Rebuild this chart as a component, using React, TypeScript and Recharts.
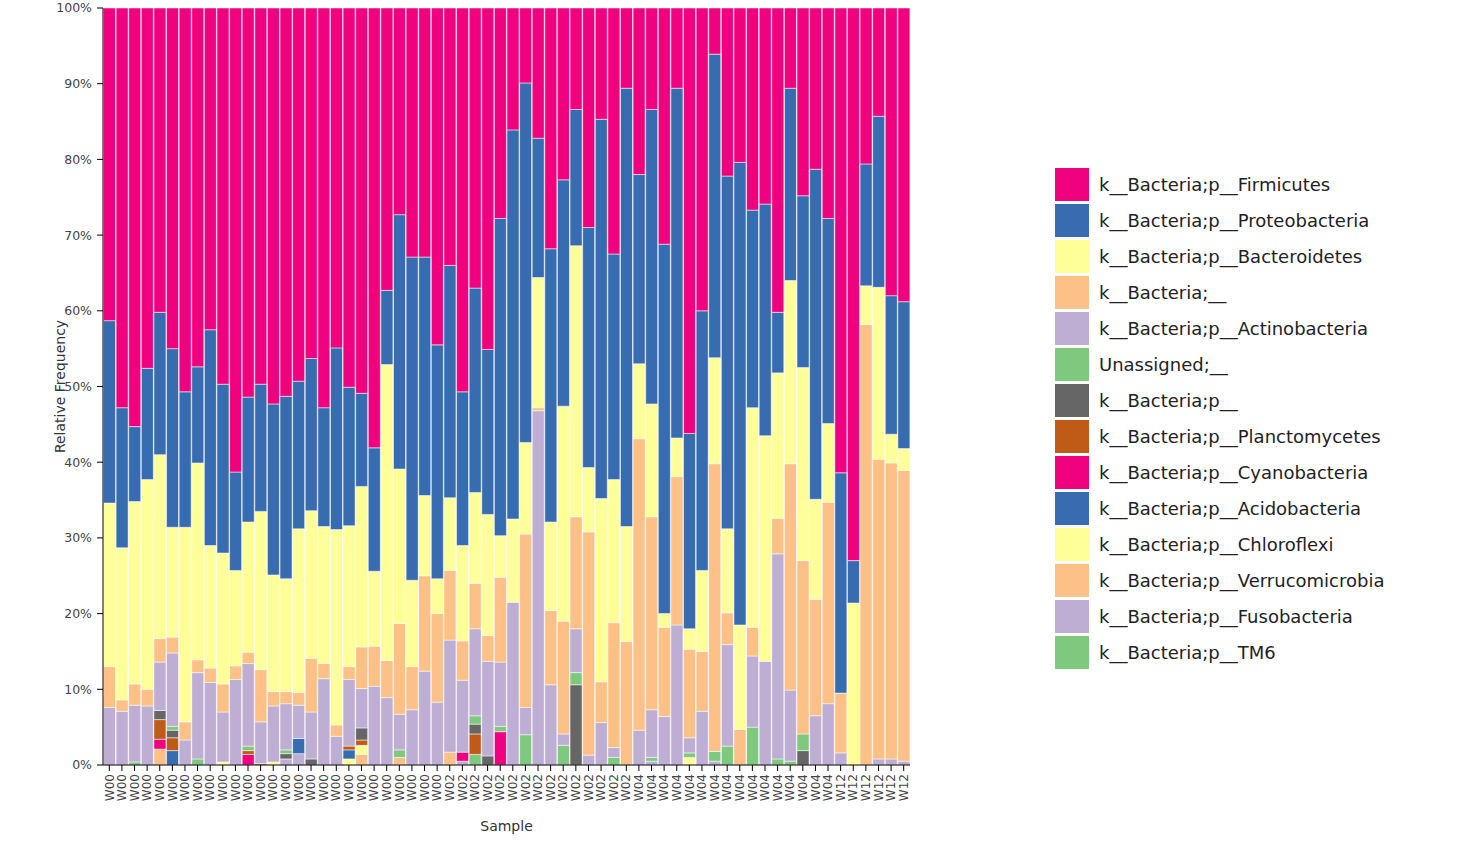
import { BarChart, Bar, XAxis, YAxis } from "recharts";

const samples = [
  "W00", "W00", "W00", "W00", "W00", "W00", "W00", "W00", "W00", "W00",
  "W00", "W00", "W00", "W00", "W00", "W00", "W00", "W00", "W00", "W00",
  "W00", "W00", "W00", "W00", "W00", "W00", "W00",
  "W02", "W02", "W02", "W02", "W02", "W02", "W02", "W02", "W02", "W02",
  "W02", "W02", "W02", "W02", "W02",
  "W04", "W04", "W04", "W04", "W04", "W04", "W04", "W04", "W04", "W04",
  "W04", "W04", "W04", "W04", "W04", "W04",
  "W12", "W12", "W12", "W12", "W12", "W12",
];

const yTicks = [0, 10, 20, 30, 40, 50, 60, 70, 80, 90, 100];

// relative frequency (%) per sample
const firmicutes = [
  41.3, 52.8, 55.3, 47.6, 40.2, 45.0, 50.7, 47.4, 42.5, 49.7,
  61.3, 51.4, 49.7, 52.3, 51.3, 49.3, 46.3, 52.8, 44.9, 50.1,
  50.9, 58.1, 37.3, 27.3, 32.9, 32.9, 44.5, 34.0, 50.7, 37.0,
  45.1, 27.8, 16.1, 9.9, 17.2, 31.8, 22.7, 13.4, 29.0, 14.7,
  32.5, 10.6, 22.0, 13.4, 31.2, 10.6, 56.2, 40.0, 6.1, 22.2,
  20.4, 26.7, 25.9, 40.2, 10.6, 24.8, 21.3, 27.8, 61.4, 73.0,
  20.6, 14.3, 38.0, 38.8,
];
const proteobacteria = [
  24.1, 18.5, 9.9, 14.7, 18.8, 23.6, 17.9, 12.7, 28.5, 22.3,
  13.0, 16.5, 16.8, 22.6, 24.1, 19.5, 20.1, 15.7, 24.0, 18.3,
  12.3, 16.3, 9.8, 33.6, 42.7, 31.5, 30.9, 30.7, 20.3, 27.0,
  21.8, 41.9, 51.4, 47.5, 18.4, 36.1, 29.9, 18.0, 31.7, 50.1,
  29.8, 57.9, 25.0, 38.9, 48.8, 46.2, 25.8, 34.3, 40.1, 46.6,
  61.1, 26.1, 30.6, 8.0, 25.4, 22.7, 43.6, 27.1, 29.1, 5.6,
  16.1, 22.6, 18.3, 19.4,
];
const bacteroidetes = [
  21.6, 20.1, 24.1, 27.7, 24.3, 14.5, 25.7, 26.0, 16.2, 17.3,
  12.6, 17.2, 20.9, 15.4, 14.9, 21.6, 19.5, 18.1, 25.8, 18.6,
  21.2, 9.9, 39.1, 20.4, 11.4, 10.6, 4.6, 9.6, 12.6, 12.0,
  16.0, 5.5, 11.0, 12.1, 17.2, 11.7, 28.4, 35.8, 8.5, 24.2,
  18.9, 15.2, 9.9, 14.9, 1.8, 5.1, 2.7, 10.7, 14.0, 11.1,
  13.8, 29.0, 29.8, 19.2, 24.2, 25.5, 13.2, 10.4, 0, 21.4,
  5.1, 22.7, 3.8, 2.9,
];
const bacteriaUnknown = [
  5.4, 1.5, 2.8, 2.2, 3.1, 2.1, 2.4, 1.7, 1.9, 3.7,
  1.8, 1.5, 6.9, 1.9, 1.6, 1.7, 7.1, 2.0, 1.5, 1.7,
  5.5, 5.3, 4.9, 12.0, 5.7, 12.6, 11.7, 9.2, 5.2, 6.0,
  3.4, 11.2, 0, 22.9, 0.4, 9.8, 14.9, 14.8, 29.5, 5.4,
  16.5, 16.3, 38.5, 25.5, 11.8, 19.6, 11.7, 7.9, 38.0, 4.2,
  4.7, 3.8, 0, 4.7, 29.9, 22.9, 15.4, 26.6, 7.9, 0,
  58.2, 39.6, 39.1, 38.4,
];
const actinobacteria = [
  7.6, 7.1, 7.5, 7.8, 6.4, 9.7, 3.3, 11.4, 10.9, 6.6,
  11.3, 10.9, 5.5, 7.4, 6.1, 4.4, 6.2, 11.4, 3.8, 8.8,
  5.2, 10.4, 8.9, 4.7, 7.3, 12.4, 8.3, 14.8, 9.5, 11.5,
  12.5, 8.5, 21.5, 3.6, 46.8, 10.6, 1.5, 5.8, 1.3, 5.6,
  1.3, 0, 4.6, 6.3, 6.4, 18.5, 2.0, 7.1, 0, 13.4,
  0, 9.4, 13.7, 27.1, 9.4, 0, 6.5, 8.1, 1.6, 0,
  0, 0.8, 0.8, 0.5,
];
const unassigned = [
  0, 0, 0.4, 0, 0, 0.5, 0, 0.8, 0, 0,
  0, 0.6, 0, 0, 0.5, 0, 0, 0, 0, 0,
  0, 0, 0, 1.0, 0, 0, 0, 0, 0, 1.1,
  0, 0.7, 0, 4.0, 0, 0, 2.6, 1.6, 0, 0,
  1.0, 0, 0, 0.5, 0, 0, 0.6, 0, 1.3, 2.5,
  0, 5.0, 0, 0.8, 0.5, 2.2, 0, 0, 0, 0,
  0, 0, 0, 0,
];
const bacteriaP = [
  0, 0, 0, 0, 1.2, 1.0, 0, 0, 0, 0,
  0, 0, 0, 0, 0.7, 0, 0.8, 0, 0, 0,
  1.6, 0, 0, 0, 0, 0, 0, 0, 0, 1.3,
  1.2, 0, 0, 0, 0, 0, 0, 10.6, 0, 0,
  0, 0, 0, 0, 0, 0, 0, 0, 0, 0,
  0, 0, 0, 0, 0, 1.9, 0, 0, 0, 0,
  0, 0, 0, 0,
];
const planctomycetes = [
  0, 0, 0, 0, 2.6, 1.7, 0, 0, 0, 0,
  0, 0.5, 0.2, 0, 0, 0, 0, 0, 0, 0.5,
  0.7, 0, 0, 0, 0, 0, 0, 0, 0, 2.7,
  0, 0, 0, 0, 0, 0, 0, 0, 0, 0,
  0, 0, 0, 0, 0, 0, 0, 0, 0, 0,
  0, 0, 0, 0, 0, 0, 0, 0, 0, 0,
  0, 0, 0, 0,
];
const cyanobacteria = [
  0, 0, 0, 0, 1.3, 0, 0, 0, 0, 0,
  0, 1.4, 0, 0, 0, 0, 0, 0, 0, 0,
  0, 0, 0, 0, 0, 0, 0, 0, 1.2, 0,
  0, 4.4, 0, 0, 0, 0, 0, 0, 0, 0,
  0, 0, 0, 0, 0, 0, 0, 0, 0, 0,
  0, 0, 0, 0, 0, 0, 0, 0, 0, 0,
  0, 0, 0, 0,
];
const acidobacteria = [
  0, 0, 0, 0, 0, 1.9, 0, 0, 0, 0,
  0, 0, 0, 0, 0, 2.0, 0, 0, 0, 1.2,
  0, 0, 0, 0, 0, 0, 0, 0, 0, 0,
  0, 0, 0, 0, 0, 0, 0, 0, 0, 0,
  0, 0, 0, 0, 0, 0, 0, 0, 0, 0,
  0, 0, 0, 0, 0, 0, 0, 0, 0, 0,
  0, 0, 0, 0,
];
const chloroflexi = [
  0, 0, 0, 0, 0, 0, 0, 0, 0, 0.4,
  0, 0, 0, 0.4, 0, 0, 0, 0, 0, 0.8,
  1.2, 0, 0, 0, 0, 0, 0, 0, 0, 0,
  0, 0, 0, 0, 0, 0, 0, 0, 0, 0,
  0, 0, 0, 0, 0, 0, 1.0, 0, 0, 0,
  0, 0, 0, 0, 0, 0, 0, 0, 0, 0,
  0, 0, 0, 0,
];
const verrucomicrobia = [
  0, 0, 0, 0, 2.1, 0, 0, 0, 0, 0,
  0, 0, 0, 0, 0, 0, 0, 0, 0, 0,
  1.4, 0, 0, 1.0, 0, 0, 0, 1.7, 0, 0,
  0, 0, 0, 0, 0, 0, 0, 0, 0, 0,
  0, 0, 0, 0, 0, 0, 0, 0, 0, 0,
  0, 0, 0, 0, 0, 0, 0, 0, 0, 0,
  0, 0, 0, 0,
];
const fusobacteria = [
  0, 0, 0, 0, 0, 0, 0, 0, 0, 0,
  0, 0, 0, 0, 0.8, 1.5, 0, 0, 0, 0,
  0, 0, 0, 0, 0, 0, 0, 0, 0.5, 0,
  0, 0, 0, 0, 0, 0, 0, 0, 0, 0,
  0, 0, 0, 0.5, 0, 0, 0, 0, 0.5, 0,
  0, 0, 0, 0, 0, 0, 0, 0, 0, 0,
  0, 0, 0, 0,
];
const tm6 = [
  0, 0, 0, 0, 0, 0, 0, 0, 0, 0,
  0, 0, 0, 0, 0, 0, 0, 0, 0, 0,
  0, 0, 0, 0, 0, 0, 0, 0, 0, 1.4,
  0, 0, 0, 0, 0, 0, 0, 0, 0, 0,
  0, 0, 0, 0, 0, 0, 0, 0, 0, 0,
  0, 0, 0, 0, 0, 0, 0, 0, 0, 0,
  0, 0, 0, 0,
];

// legend order (top of stack first)
const series = [
  { key: "firmicutes", name: "k__Bacteria;p__Firmicutes", color: "#f0027f", values: firmicutes },
  { key: "proteobacteria", name: "k__Bacteria;p__Proteobacteria", color: "#386cb0", values: proteobacteria },
  { key: "bacteroidetes", name: "k__Bacteria;p__Bacteroidetes", color: "#ffff99", values: bacteroidetes },
  { key: "bacteriaUnknown", name: "k__Bacteria;__", color: "#fdc086", values: bacteriaUnknown },
  { key: "actinobacteria", name: "k__Bacteria;p__Actinobacteria", color: "#beaed4", values: actinobacteria },
  { key: "unassigned", name: "Unassigned;__", color: "#7fc97f", values: unassigned },
  { key: "bacteriaP", name: "k__Bacteria;p__", color: "#666666", values: bacteriaP },
  { key: "planctomycetes", name: "k__Bacteria;p__Planctomycetes", color: "#bf5b17", values: planctomycetes },
  { key: "cyanobacteria", name: "k__Bacteria;p__Cyanobacteria", color: "#f0027f", values: cyanobacteria },
  { key: "acidobacteria", name: "k__Bacteria;p__Acidobacteria", color: "#386cb0", values: acidobacteria },
  { key: "chloroflexi", name: "k__Bacteria;p__Chloroflexi", color: "#ffff99", values: chloroflexi },
  { key: "verrucomicrobia", name: "k__Bacteria;p__Verrucomicrobia", color: "#fdc086", values: verrucomicrobia },
  { key: "fusobacteria", name: "k__Bacteria;p__Fusobacteria", color: "#beaed4", values: fusobacteria },
  { key: "tm6", name: "k__Bacteria;p__TM6", color: "#7fc97f", values: tm6 },
];

const data = samples.map((s, i) => {
  const row: Record<string, number | string> = { id: i, sample: s };
  series.forEach((d) => {
    row[d.key] = d.values[i];
  });
  return row;
});

const FONT = "'DejaVu Sans', Verdana, sans-serif";

function SampleTick({ x, y, payload }: any) {
  return (
    <g transform={`translate(${x},${y})`}>
      <text
        transform="rotate(-90)"
        x={0}
        y={0}
        dy="0.35em"
        textAnchor="end"
        fontSize={12}
        fill="#444"
        fontFamily={FONT}
      >
        {samples[payload.value]}
      </text>
    </g>
  );
}

function TaxaLegend() {
  return (
    <div style={{ position: "absolute", left: 1055, top: 166, fontFamily: FONT }}>
      {series.map((d) => (
        <div key={d.key} style={{ display: "flex", alignItems: "center", height: 36 }}>
          <div style={{ width: 34, height: 33, background: d.color, marginRight: 10 }} />
          <span style={{ fontSize: 18, color: "#222", whiteSpace: "nowrap" }}>{d.name}</span>
        </div>
      ))}
    </div>
  );
}

export default function App() {
  return (
    <div style={{ width: 1476, height: 842, position: "relative" }}>
      <style>{"body{margin:0}"}</style>
      <BarChart
        width={1476}
        height={842}
        data={data}
        margin={{ top: 8, right: 566, left: 43, bottom: 7 }}
        barCategoryGap={0.5}
        style={{ fontFamily: FONT }}
      >
        <XAxis
          dataKey="id"
          type="category"
          interval={0}
          height={70}
          tick={<SampleTick />}
          tickSize={6}
          tickMargin={3}
          axisLine={{ stroke: "#000" }}
          tickLine={{ stroke: "#000" }}
          label={{ value: "Sample", position: "insideBottom", offset: 4, fontSize: 14, fill: "#333" }}
        />
        <YAxis
          type="number"
          domain={[0, 100]}
          ticks={yTicks}
          width={60}
          tickSize={6}
          tickMargin={5}
          tickFormatter={(v: number) => `${v}%`}
          tick={{ fontSize: 12.5, fill: "#444" }}
          axisLine={{ stroke: "#000" }}
          tickLine={{ stroke: "#000" }}
          label={{
            value: "Relative Frequency",
            angle: -90,
            position: "insideLeft",
            offset: 17,
            fontSize: 14,
            fill: "#333",
            style: { textAnchor: "middle" },
          }}
        />
        {[...series].reverse().map((d) => (
          <Bar
            key={d.key}
            dataKey={d.key}
            name={d.name}
            stackId="taxa"
            fill={d.color}
            stroke="#ffffff"
            strokeWidth={0.5}
            isAnimationActive={false}
          />
        ))}
      </BarChart>
      <TaxaLegend />
    </div>
  );
}
